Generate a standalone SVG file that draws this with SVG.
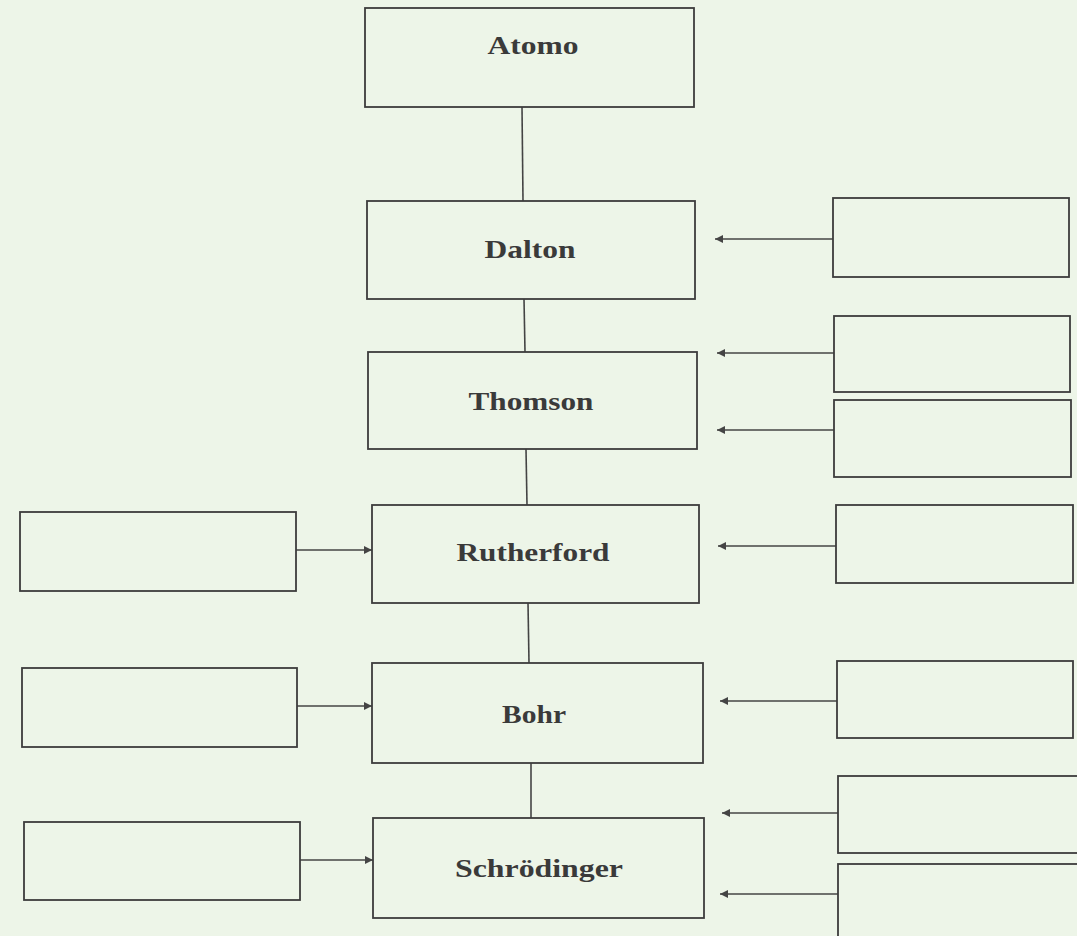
<svg xmlns="http://www.w3.org/2000/svg" width="1077" height="936" viewBox="0 0 1077 936">
<defs>
<marker id="ah" viewBox="0 0 10 10" refX="10" refY="5" markerWidth="8" markerHeight="8" markerUnits="userSpaceOnUse" orient="auto">
<path d="M0,0 L10,5 L0,10 Z" fill="#444"/>
</marker>
<style>
.box{fill:none;stroke:#3c3c3c;stroke-width:1.8}
.lbl{font-family:"Liberation Serif","Times New Roman",serif;font-weight:bold;font-size:25px;fill:#3a3a3a;text-anchor:middle}
.ln{fill:none;stroke:#444;stroke-width:1.6}
.arr{fill:none;stroke:#444;stroke-width:1.6;marker-end:url(#ah)}
</style>
</defs>
<rect x="0" y="0" width="1077" height="936" fill="#edf5e8"/>
<g id="connectors">
<line class="ln" x1="522" y1="107" x2="523" y2="201"/>
<line class="ln" x1="524" y1="299" x2="525" y2="352"/>
<line class="ln" x1="526" y1="449" x2="527" y2="505"/>
<line class="ln" x1="528" y1="603" x2="529" y2="663"/>
<line class="ln" x1="531" y1="763" x2="531" y2="818"/>
<line class="arr" x1="833" y1="239" x2="715" y2="239"/>
<line class="arr" x1="834" y1="353" x2="717" y2="353"/>
<line class="arr" x1="834" y1="430" x2="717" y2="430"/>
<line class="arr" x1="836" y1="546" x2="718" y2="546"/>
<line class="arr" x1="837" y1="701" x2="720" y2="701"/>
<line class="arr" x1="838" y1="813" x2="722" y2="813"/>
<line class="arr" x1="838" y1="894" x2="720" y2="894"/>
<line class="arr" x1="296" y1="550" x2="372" y2="550"/>
<line class="arr" x1="297" y1="706" x2="372" y2="706"/>
<line class="arr" x1="300" y1="860" x2="373" y2="860"/>
</g>
<g id="atomo"><rect class="box" x="365" y="8" width="329" height="99"/><text class="lbl" x="533" y="54" textLength="91" lengthAdjust="spacingAndGlyphs">Atomo</text></g>
<g id="dalton"><rect class="box" x="367" y="201" width="328" height="98"/><text class="lbl" x="530" y="258" textLength="91" lengthAdjust="spacingAndGlyphs">Dalton</text></g>
<g id="thomson"><rect class="box" x="368" y="352" width="329" height="97"/><text class="lbl" x="531" y="410" textLength="125" lengthAdjust="spacingAndGlyphs">Thomson</text></g>
<g id="rutherford"><rect class="box" x="372" y="505" width="327" height="98"/><text class="lbl" x="533" y="561" textLength="153" lengthAdjust="spacingAndGlyphs">Rutherford</text></g>
<g id="bohr"><rect class="box" x="372" y="663" width="331" height="100"/><text class="lbl" x="534" y="723" textLength="64" lengthAdjust="spacingAndGlyphs">Bohr</text></g>
<g id="schrodinger"><rect class="box" x="373" y="818" width="331" height="100"/><text class="lbl" x="539" y="877" textLength="168" lengthAdjust="spacingAndGlyphs">Schrödinger</text></g>
<g id="r1"><rect class="box" x="833" y="198" width="236" height="79"/></g>
<g id="r2"><rect class="box" x="834" y="316" width="236" height="76"/></g>
<g id="r3"><rect class="box" x="834" y="400" width="237" height="77"/></g>
<g id="r4"><rect class="box" x="836" y="505" width="237" height="78"/></g>
<g id="r5"><rect class="box" x="837" y="661" width="236" height="77"/></g>
<g id="r6"><rect class="box" x="838" y="776" width="240" height="77"/></g>
<g id="r7"><rect class="box" x="838" y="864" width="240" height="80"/></g>
<g id="l1"><rect class="box" x="20" y="512" width="276" height="79"/></g>
<g id="l2"><rect class="box" x="22" y="668" width="275" height="79"/></g>
<g id="l3"><rect class="box" x="24" y="822" width="276" height="78"/></g>
</svg>
